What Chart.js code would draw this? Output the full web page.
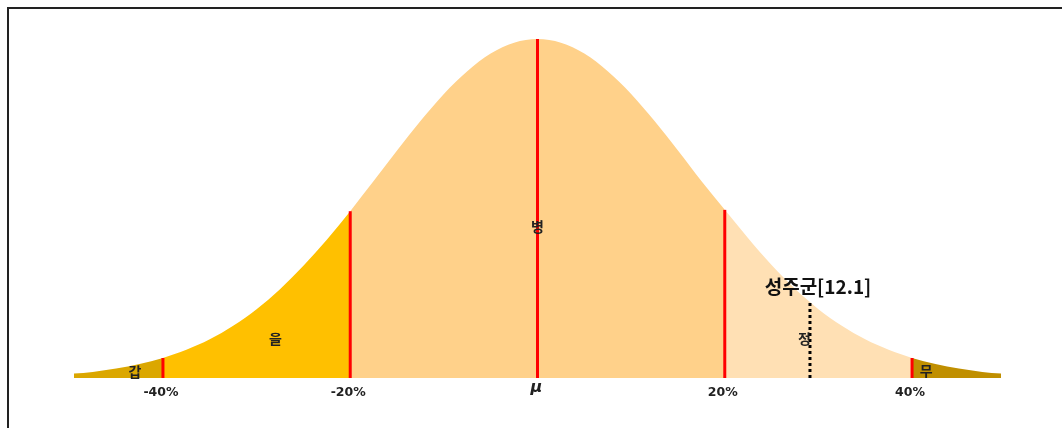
<!DOCTYPE html>
<html>
<head>
<meta charset="utf-8">
<script src="https://cdn.jsdelivr.net/npm/chart.js@4.4.1/dist/chart.umd.min.js"></script>
<style>
  html, body { margin: 0; padding: 0; background: #fff; overflow: hidden; }
  #wrap { position: relative; width: 1062px; height: 428px; }
  #frame { position: absolute; left: 7px; top: 7px; width: 1100px; height: 500px;
           border-top: 2px solid #222; border-left: 2px solid #222; }
  canvas { position: absolute; left: 0; top: 0; }
</style>
</head>
<body>
<div id="wrap">
  <div id="frame"></div>
  <canvas id="curveChart" width="1062" height="428"></canvas>
</div>
<script>
// curve (% deviation, height relative to peak = 100)
const xValues = [-50, -47.5, -45, -42.5, -40, -37.5, -35, -32.5, -30, -27.5, -25, -22.5, -20, -17.5, -15, -12.5, -10, -7.5, -5, -2.5,
                 0, 2.5, 5, 7.5, 10, 12.5, 15, 17.5, 20, 22.5, 25, 27.5, 30, 32.5, 35, 37.5, 40, 42.5, 45, 47.5, 50];
const heights = [1.2, 1.8, 2.8, 4.1, 5.9, 8.3, 11.4, 15.4, 20.3, 26.2, 33.1, 40.8, 49.2, 58.1, 67.1, 75.8, 83.8, 90.5, 95.7, 98.9,
                 100, 98.9, 95.7, 90.5, 83.8, 75.8, 67.1, 58.1, 49.6, 41.2, 33.3, 26.3, 20.3, 15.4, 11.4, 8.3, 5.9, 4.1, 2.8, 1.8, 1.2];

// regions
const bounds = [-50, -40, -20, 20, 40, 50];
const regionNames = ['갑', '을', '병', '정', '무'];
const regionColors = ['#DBA700', '#FFC000', '#FFD18A', '#FFE0B4', '#C08F00'];
const regionLabelX = [-43, -28, 0, 28.5, 41.5];
const regionLabelY = [2, 11.5, 44.5, 11.5, 2.3];

// red divider lines and axis labels
const dividers = [-40, -20, 0, 20, 40];
const tickLabels = ['-40%', '-20%', 'μ', '20%', '40%'];

// marker
const markerName = '성주군[12.1]';
const markerX = 29.1;
const markerH = 22.1;

function heightAt(x) {
    const i = xValues.indexOf(x);
    return heights[i];
}

const datasets = [];
for (let r = 0; r < regionNames.length; r++) {
    const pts = [];
    xValues.forEach((x, i) => {
        if (x >= bounds[r] && x <= bounds[r + 1]) pts.push({ x: x, y: heights[i] });
    });
    datasets.push({
        data: pts,
        borderWidth: 0,
        borderColor: regionColors[r],
        backgroundColor: regionColors[r],
        fill: 'origin',
        pointRadius: 0,
        cubicInterpolationMode: 'monotone',
        order: 3
    });
}
dividers.forEach(d => {
    datasets.push({
        data: [{ x: d, y: 0 }, { x: d, y: heightAt(d) }],
        borderColor: '#FF0000',
        borderWidth: 3,
        pointRadius: 0,
        fill: false,
        order: 1
    });
});
datasets.push({
    data: [{ x: markerX, y: 0 }, { x: markerX, y: markerH }],
    borderColor: '#000',
    borderWidth: 3,
    borderDash: [3, 3],
    pointRadius: 0,
    fill: false,
    order: 1
});

// draws region names, axis labels and the marker caption
const textPlugin = {
    id: 'textPlugin',
    afterDatasetsDraw(chart) {
        const ctx = chart.ctx;
        const xs = chart.scales.x, ys = chart.scales.y;
        const base = chart.chartArea.bottom;
        ctx.save();
        ctx.textAlign = 'center';
        ctx.textBaseline = 'middle';
        ctx.fillStyle = '#222';
        ctx.font = 'bold 14px "Noto Sans CJK KR"';
        regionNames.forEach((n, i) => {
            ctx.fillText(n, xs.getPixelForValue(regionLabelX[i]), ys.getPixelForValue(regionLabelY[i]));
        });
        tickLabels.forEach((t, i) => {
            const px = xs.getPixelForValue(dividers[i]) - 2;
            if (t === 'μ') {
                ctx.font = 'italic bold 16px "DejaVu Sans"';
                ctx.fillText(t, px + 1, base + 10);
            } else {
                ctx.font = 'bold 12.5px "DejaVu Sans"';
                ctx.fillText(t, px, base + 15);
            }
        });
        ctx.font = 'bold 19px "Noto Sans CJK KR"';
        ctx.fillStyle = '#111';
        ctx.fillText(markerName, xs.getPixelForValue(markerX) + 8, ys.getPixelForValue(markerH) - 16);
        ctx.restore();
    }
};

const ctx = document.getElementById('curveChart').getContext('2d');
new Chart(ctx, {
    type: 'line',
    data: { datasets: datasets },
    options: {
        responsive: false,
        animation: false,
        layout: { padding: { left: 74, right: 61, top: 39, bottom: 50 } },
        plugins: { legend: { display: false }, tooltip: { enabled: false } },
        scales: {
            x: { type: 'linear', min: -49.5, max: 49.5, display: false },
            y: { min: 0, max: 100, display: false }
        }
    },
    plugins: [textPlugin]
});
</script>
</body>
</html>
